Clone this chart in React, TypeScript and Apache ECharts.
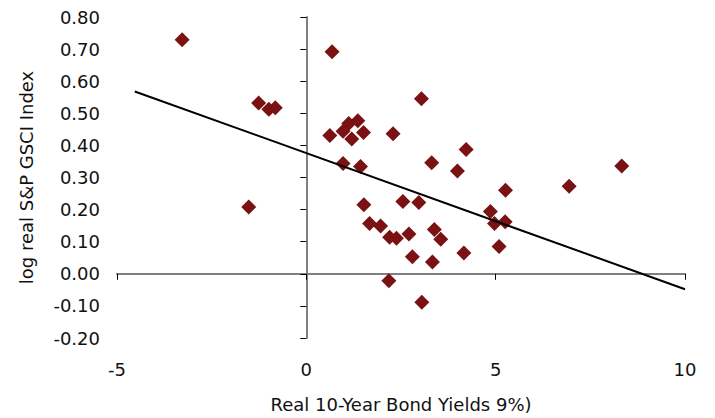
import React, { useEffect, useRef } from "react";
import * as echarts from "echarts";

const xValues = [
  -3.28, -1.26, -0.99, -0.82, -1.52, 0.62, 0.68, 0.97, 0.97, 1.12, 1.36, 1.51, 1.2, 1.43,
  2.29, 3.04, 4.22, 3.31, 3.99, 5.26, 1.52, 2.55, 2.97, 1.67, 1.96, 2.2, 2.38, 2.71, 3.38,
  3.55, 2.8, 3.33, 4.16, 4.86, 4.97, 5.25, 5.09, 2.18, 3.05, 6.94, 8.33,
];
const yValues = [
  0.729, 0.532, 0.513, 0.517, 0.208, 0.431, 0.692, 0.344, 0.444, 0.468, 0.477, 0.44, 0.42,
  0.334, 0.436, 0.545, 0.387, 0.346, 0.32, 0.26, 0.215, 0.225, 0.222, 0.157, 0.149, 0.114,
  0.111, 0.124, 0.138, 0.108, 0.053, 0.037, 0.065, 0.194, 0.157, 0.162, 0.085, -0.022,
  -0.089, 0.273, 0.336,
];
const trendX = [-4.53, 10.0];
const trendY = [0.568, -0.048];

const xTicks = { min: -5, max: 10, interval: 5 };
const yTicks = { min: -0.2, max: 0.8, interval: 0.1 };

const xName = "Real 10-Year Bond Yields 9%)";
const yName = "log real S&P GSCI Index";

const FONT = "DejaVu Sans";

export default function App() {
  const ref = useRef<HTMLDivElement>(null);
  useEffect(() => {
    if (!ref.current) return;
    const chart = echarts.init(ref.current, null, { renderer: "svg" });
    const labelStyle = { fontFamily: FONT, fontSize: 18, color: "#111" };
    chart.setOption({
      animation: false,
      backgroundColor: "#fff",
      grid: { left: 117, right: 30, top: 17, bottom: 78 },
      xAxis: [
        {
          type: "value",
          position: "bottom",
          ...xTicks,
          axisLine: { show: false, onZero: false },
          axisTick: { show: false },
          splitLine: { show: false },
          axisLabel: { ...labelStyle, margin: 22 },
          name: xName,
          nameLocation: "middle",
          nameGap: 57,
          nameTextStyle: { fontFamily: FONT, fontSize: 18, color: "#111" },
        },
        {
          type: "value",
          position: "top",
          ...xTicks,
          axisLine: { show: true, onZero: true, onZeroAxisIndex: 0, lineStyle: { color: "#808080", width: 2 } },
          axisTick: { show: true, inside: true, length: 6, lineStyle: { color: "#000", width: 1 } },
          axisLabel: { show: false },
          splitLine: { show: false },
        },
      ],
      yAxis: [
        {
          type: "value",
          position: "left",
          ...yTicks,
          axisLine: { show: false, onZero: false },
          axisTick: { show: false },
          splitLine: { show: false },
          axisLabel: { ...labelStyle, margin: 17, formatter: (v: number) => v.toFixed(2) },
          name: yName,
          nameLocation: "middle",
          nameGap: 82,
          nameTextStyle: { fontFamily: FONT, fontSize: 18, color: "#111" },
        },
        {
          type: "value",
          position: "right",
          ...yTicks,
          axisLine: { show: true, onZero: true, onZeroAxisIndex: 0, lineStyle: { color: "#808080", width: 2 } },
          axisTick: { show: true, inside: true, length: 6, lineStyle: { color: "#000", width: 1 } },
          axisLabel: { show: false },
          splitLine: { show: false },
        },
      ],
      series: [
        {
          type: "line",
          xAxisIndex: 0,
          yAxisIndex: 0,
          data: trendX.map((x, i) => [x, trendY[i]]),
          showSymbol: false,
          symbol: "none",
          lineStyle: { color: "#000", width: 2 },
          silent: true,
          z: 3,
        },
        {
          type: "scatter",
          xAxisIndex: 0,
          yAxisIndex: 0,
          data: xValues.map((x, i) => [x, yValues[i]]),
          symbol: "diamond",
          symbolSize: 15,
          itemStyle: { color: "#7a1214", opacity: 1 },
          z: 2,
        },
      ],
    });
    return () => chart.dispose();
  }, []);
  return (
    <div
      ref={ref}
      style={{ position: "fixed", left: 0, top: 0, width: 715, height: 418 }}
    />
  );
}
